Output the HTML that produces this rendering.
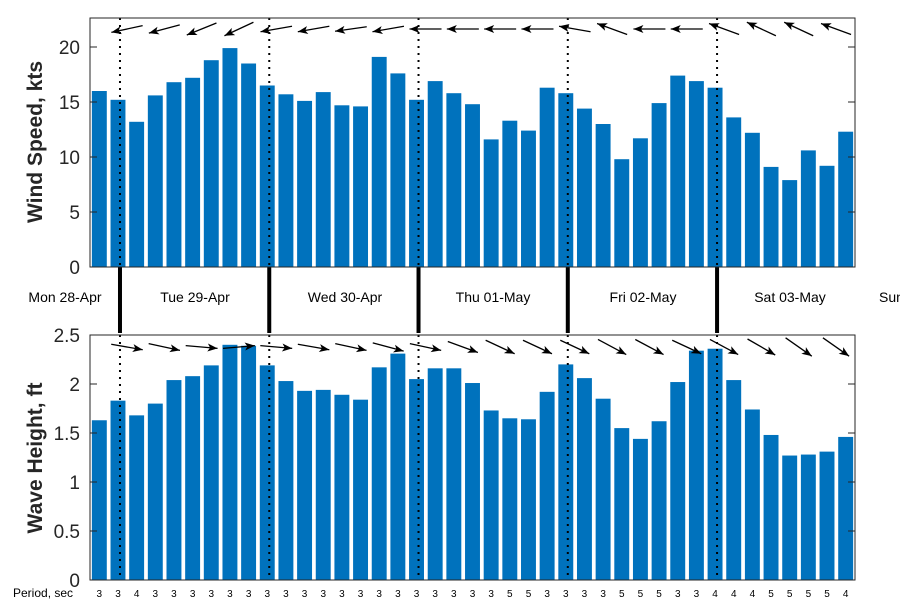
<!DOCTYPE html>
<html><head><meta charset="utf-8"><style>
html,body{margin:0;padding:0;background:#fff}
svg{display:block;font-family:"Liberation Sans","DejaVu Sans",sans-serif}
</style></head><body>
<svg id="chart" width="900" height="600" viewBox="0 0 900 600"></svg>
<script>
const windSpeed=[16.0,15.2,13.2,15.6,16.8,17.2,18.8,19.9,18.5,16.5,15.7,15.1,15.9,14.7,14.6,19.1,17.6,15.2,16.9,15.8,14.8,11.6,13.3,12.4,16.3,15.8,14.4,13.0,9.8,11.7,14.9,17.4,16.9,16.3,13.6,12.2,9.1,7.9,10.6,9.2,12.3];
const waveHeight=[1.63,1.83,1.68,1.80,2.04,2.08,2.19,2.40,2.39,2.19,2.03,1.93,1.94,1.89,1.84,2.17,2.31,2.05,2.16,2.16,2.01,1.73,1.65,1.64,1.92,2.20,2.06,1.85,1.55,1.44,1.62,2.02,2.34,2.36,2.04,1.74,1.48,1.27,1.28,1.31,1.46];
const periods=[3,3,4,3,3,3,3,3,3,3,3,3,3,3,3,3,3,3,3,3,3,3,5,5,3,3,3,3,5,5,5,3,3,4,4,4,5,5,5,5,4];
const windDir=[168,165,158,155,170,170,172,170,180,180,180,180,190,200,180,180,200,205,205,200];
const waveDir=[10,12,5,-5,5,10,12,15,12,20,25,25,25,28,28,25,28,30,35,35];
const dayLabels=["Mon 28-Apr","Tue 29-Apr","Wed 30-Apr","Thu 01-May","Fri 02-May","Sat 03-May","Sun 04-May"];
const windTicks=[0,5,10,15,20];
const waveTicks=[0,0.5,1,1.5,2,2.5];

const svg=document.getElementById('chart');
const NS='http://www.w3.org/2000/svg';
const X0=90,X1=855,N=windSpeed.length,BW=(X1-X0)/N;
const xc=i=>X0+BW*(i+0.5);
const yW=v=>267-v*11;
const yH=v=>580-v*98;
function mk(t,a,parent){const e=document.createElementNS(NS,t);for(const k in a)e.setAttribute(k,a[k]);(parent||svg).appendChild(e);return e;}

// frames background
const f1=mk('rect',{x:X0,y:18,width:X1-X0,height:249,fill:'#fff',stroke:'none'});


const f2=mk('rect',{x:X0,y:335,width:X1-X0,height:245,fill:'#fff',stroke:'none'});



// bars
windSpeed.forEach((v,i)=>{
  const r=mk('rect',{x:xc(i)-BW*0.4,y:yW(v),width:BW*0.8,height:yW(0)-yW(v),fill:'#0072bd'});
  
  
});
waveHeight.forEach((v,i)=>{
  const r=mk('rect',{x:xc(i)-BW*0.4,y:yH(v),width:BW*0.8,height:yH(0)-yH(v),fill:'#0072bd'});
  
  
});

// day separators
const sepIdx=[1,9,17,25,33];
sepIdx.forEach(k=>{
  const x=xc(k)+2;
  const d1=mk('line',{x1:x,y1:18,x2:x,y2:267,stroke:'#000','stroke-width':2,'stroke-dasharray':'2,5'});
  
  
  const d2=mk('line',{x1:x,y1:267,x2:x,y2:333,stroke:'#000','stroke-width':4});
  
  
  const d3=mk('line',{x1:x,y1:335,x2:x,y2:580,stroke:'#000','stroke-width':2,'stroke-dasharray':'2,5'});
  
  
});

// day labels
const dayX=[65,195,345,493,643,790,879];
dayLabels.forEach((t,i)=>{
  const e=mk('text',{x:dayX[i],y:302,'font-size':14,'text-anchor':i==6?'start':'middle',fill:'#000'});
  e.textContent=t;
  
  
});

// arrows
function arrow(cx,cy,deg,name){
  const L=32,a=deg*Math.PI/180,dx=Math.cos(a)*L/2,dy=Math.sin(a)*L/2;
  const hx=cx+dx,hy=cy+dy,tx=cx-dx,ty=cy-dy;
  const g=mk('g',{});
  
  
  mk('line',{x1:tx,y1:ty,x2:hx,y2:hy,stroke:'#000','stroke-width':1.3},g);
  const hl=10,hw=4;
  const bx=hx-Math.cos(a)*hl,by=hy-Math.sin(a)*hl;
  const px=-Math.sin(a)*hw,py=Math.cos(a)*hw;
  mk('polygon',{points:`${hx},${hy} ${bx+px},${by+py} ${bx+2.5*Math.cos(a)},${by+2.5*Math.sin(a)} ${bx-px},${by-py}`,fill:'#000'},g);
}
windDir.forEach((d,j)=>arrow(xc(2*j+1)+9,29,d,'wind-direction-arrow'));
waveDir.forEach((d,j)=>arrow(xc(2*j+1)+9,347,d,'wave-direction-arrow'));

// frames
const b1=mk('rect',{x:X0,y:18,width:X1-X0,height:249,fill:'none',stroke:'#262626','stroke-width':1});


const b2=mk('rect',{x:X0,y:335,width:X1-X0,height:245,fill:'none',stroke:'#262626','stroke-width':1});



// ticks
windTicks.forEach(v=>{
  const y=yW(v);
  mk('line',{x1:X0,y1:y,x2:X0+7,y2:y,stroke:'#262626'});
  mk('line',{x1:X1,y1:y,x2:X1-7,y2:y,stroke:'#262626'});
  const t=mk('text',{x:80,y:y+7,'font-size':19,'text-anchor':'end',fill:'#262626'});
  t.textContent=v;
  
  
});
waveTicks.forEach(v=>{
  const y=yH(v);
  mk('line',{x1:X0,y1:y,x2:X0+7,y2:y,stroke:'#262626'});
  mk('line',{x1:X1,y1:y,x2:X1-7,y2:y,stroke:'#262626'});
  const t=mk('text',{x:80,y:y+7,'font-size':19,'text-anchor':'end',fill:'#262626'});
  t.textContent=v;
  
  
});

// axis titles
const t1=mk('text',{x:0,y:0,'font-size':21,'font-weight':'bold','text-anchor':'middle',fill:'#262626',transform:'translate(42,142) rotate(-90)'});
t1.textContent='Wind Speed, kts';


const t2=mk('text',{x:0,y:0,'font-size':21,'font-weight':'bold','text-anchor':'middle',fill:'#262626',transform:'translate(42,458) rotate(-90)'});
t2.textContent='Wave Height, ft';



// periods
const pl=mk('text',{x:13,y:597,'font-size':12,fill:'#000'});
pl.textContent='Period, sec';


periods.forEach((p,i)=>{
  const t=mk('text',{x:xc(i),y:597,'font-size':10,'text-anchor':'middle',fill:'#000'});
  t.textContent=p;
  
  
});
</script>
</body></html>
